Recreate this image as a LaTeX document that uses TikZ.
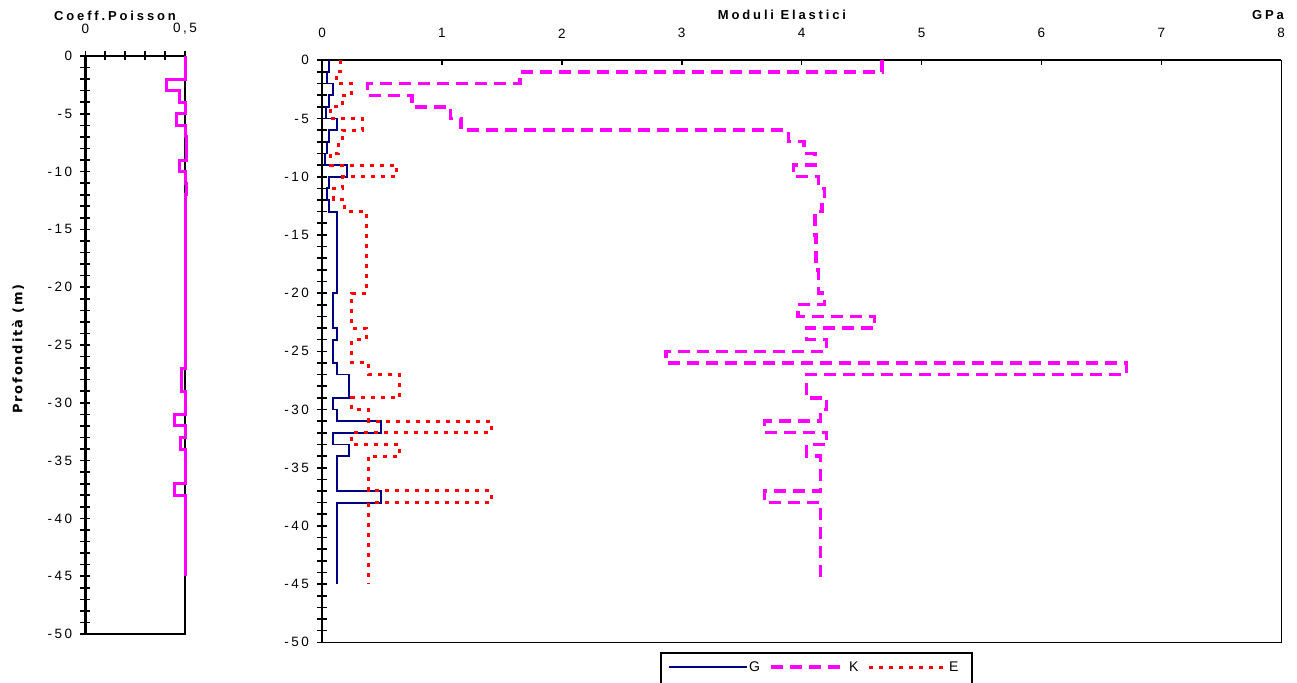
\documentclass[tikz,border=0pt]{standalone}
\usepackage{fontspec}
\setmainfont{Liberation Sans}
\newfontfamily\tickfont[LetterSpace=18]{Liberation Sans}
\newfontfamily\titlefont[LetterSpace=22]{Liberation Sans}
\newfontfamily\ylabfont[LetterSpace=14]{DejaVu Sans}
\definecolor{gnavy}{RGB}{0,0,128}
\definecolor{kmag}{RGB}{255,0,255}
\definecolor{ered}{RGB}{255,0,0}

\begin{document}
\begin{tikzpicture}[x=1pt,y=1pt,
    axisline/.style={black, line width=2.6pt},
    topline/.style={black, line width=2pt},
    frameline/.style={black, line width=1.4pt},
    tickmark/.style={black, line width=1.6pt},
    ticklabel/.style={font=\tickfont\fontsize{13.5}{15}\selectfont, inner sep=0pt},
    leglabel/.style={font=\fontsize{14}{16}\selectfont, inner sep=0pt},
    titlelabel/.style={font=\titlefont\bfseries\fontsize{13}{15}\selectfont, inner sep=0pt},
    gline/.style={gnavy, line width=1.8pt},
    kline/.style={kmag, line width=3.4pt, dash pattern=on 12pt off 7pt},
    eline/.style={ered, line width=3pt, dash pattern=on 4pt off 6pt},
    pline/.style={kmag, line width=3pt}]
    \useasboundingbox (0,0) rectangle (1297,-682);

    % titles
    \node[titlelabel] (ttlpois) at (115,-16) {Coeff.Poisson};
    \node[titlelabel] (ttlmod) at (782,-15) {Moduli Elastici};
    \node[titlelabel, anchor=east] (ttlgpa) at (1284,-15) {GPa};
    \node[rotate=90, inner sep=0pt, font=\ylabfont\bfseries\fontsize{13}{15}\selectfont] (ylab) at (18,-349) {Profondità (m)};

    % left panel: Poisson
    \begin{scope}[shift={(85.3,-56)}, x=199.4pt, y=11.56pt]
        \draw[frameline] (0,0) rectangle (0.5,-50);
        \draw[topline] (0,0) -- (0.5,0);
        \draw[axisline] (0,0) -- (0,-50);
        \foreach \i in {0,...,5}
            \draw[tickmark] (\i/10,0) ++(0,4.5pt) -- ++(0,-9pt);
        \foreach \d in {0,...,50}
            \draw[tickmark] (0,-\d) ++(-5pt,0) -- ++(10pt,0);
        \node[ticklabel] (px0) at (0,0) [yshift=27pt] {0};
        \node[ticklabel] (px5) at (0.5,0) [yshift=27pt] {0,5};
        \foreach \d in {0,5,...,50}
            \node[ticklabel, anchor=east] (py\d) at (0,-\d) [xshift=-13pt] {\ifnum\d=0 0\else -\d\fi};
        \draw[pline] (0.5,0) |- (0.406,-2) |- (0.473,-3) |- (0.5,-4) |- (0.457,-5)
            |- (0.5,-6) |- (0.51,-7) |- (0.473,-9) |- (0.5,-10) |- (0.51,-11)
            |- (0.5,-12) |- (0.48,-27) |- (0.5,-29) |- (0.445,-31) |- (0.5,-32)
            |- (0.475,-33) |- (0.5,-34) |- (0.445,-37) |- (0.5,-38) -- (0.5,-45);
    \end{scope}

    % main panel: elastic moduli
    \begin{scope}[shift={(322,-60.3)}, x=119.9pt, y=11.64pt]
        \draw[frameline] (0,0) rectangle (8,-50);
        \draw[topline] (0,0) -- (8,0);
        \draw[axisline] (0,0) -- (0,-50);
        \foreach \v in {1,...,7}
            \draw[tickmark] (\v,0) -- ++(0,-5pt);
        \foreach \d in {0,...,50}
            \draw[tickmark] (0,-\d) ++(-5pt,0) -- ++(10pt,0);
        \foreach \v in {0,...,8}
            \node[ticklabel] (mx\v) at (\v,0) [yshift=27pt] {\v};
        \foreach \d in {0,5,...,50}
            \node[ticklabel, anchor=east] (my\d) at (0,-\d) [xshift=-13pt] {\ifnum\d=0 0\else -\d\fi};
        % G
        \draw[gline] (0.058,0) |- (0.04,-1) |- (0.09,-2) |- (0.058,-3) |- (0.03,-4)
            |- (0.125,-5) |- (0.058,-6) |- (0.04,-7) |- (0.025,-8) |- (0.21,-9)
            |- (0.058,-10) |- (0.04,-11) |- (0.058,-12) |- (0.125,-13) |- (0.09,-20)
            |- (0.125,-23) |- (0.09,-24) |- (0.125,-26) |- (0.225,-27) |- (0.09,-29)
            |- (0.125,-30) |- (0.49,-31) |- (0.09,-32) |- (0.225,-33) |- (0.125,-34)
            |- (0.49,-37) |- (0.125,-38) -- (0.125,-45);
        % K
        \draw[kline] (4.67,0) |- (1.65,-1) |- (0.38,-2) |- (0.75,-3) |- (1.07,-4)
            |- (1.16,-5) |- (3.89,-6) |- (4.02,-7) |- (4.11,-8) |- (3.93,-9)
            |- (4.14,-10) |- (4.19,-11) |- (4.17,-12) |- (4.11,-13) |- (4.12,-15)
            |- (4.14,-18) |- (4.19,-20) |- (3.97,-21) |- (4.61,-22) |- (4.04,-23)
            |- (4.21,-24) |- (2.87,-25) |- (6.71,-26) |- (4.04,-27) |- (4.21,-29)
            |- (4.16,-30) |- (3.69,-31) |- (4.21,-32) |- (4.04,-33) |- (4.16,-34)
            |- (3.69,-37) |- (4.16,-38) -- (4.16,-45);
        % E
        \draw[eline] (0.153,0) |- (0.12,-1) |- (0.25,-2) |- (0.17,-3) |- (0.07,-4)
            |- (0.34,-5) |- (0.17,-6) |- (0.14,-7) |- (0.07,-8) |- (0.62,-9)
            |- (0.17,-10) |- (0.10,-11) |- (0.19,-12) |- (0.37,-13) |- (0.25,-20)
            |- (0.37,-23) |- (0.25,-24) |- (0.39,-26) |- (0.65,-27) |- (0.25,-29)
            |- (0.39,-30) |- (1.41,-31) |- (0.25,-32) |- (0.65,-33) |- (0.39,-34)
            |- (1.41,-37) |- (0.39,-38) -- (0.39,-45);
    \end{scope}

    % legend
    \draw[black, line width=1.6pt] (661,-653) rectangle (972,-692);
    \node[leglabel, anchor=west] (legG) at (749,-667) {G};
    \node[leglabel, anchor=west] (legK) at (849,-667) {K};
    \node[leglabel, anchor=west] (legE) at (949,-667) {E};
    \coordinate (gA) at (669,-667);
    \coordinate (kA) at (771,-667);
    \coordinate (eA) at (869,-667);
    \draw[gline] (gA) -- ([xshift=-2pt]legG.west);
    \draw[kline] (kA) -- ([xshift=-2pt]legK.west);
    \draw[eline] (eA) -- ([xshift=-2pt]legE.west);
\end{tikzpicture}
\end{document}
